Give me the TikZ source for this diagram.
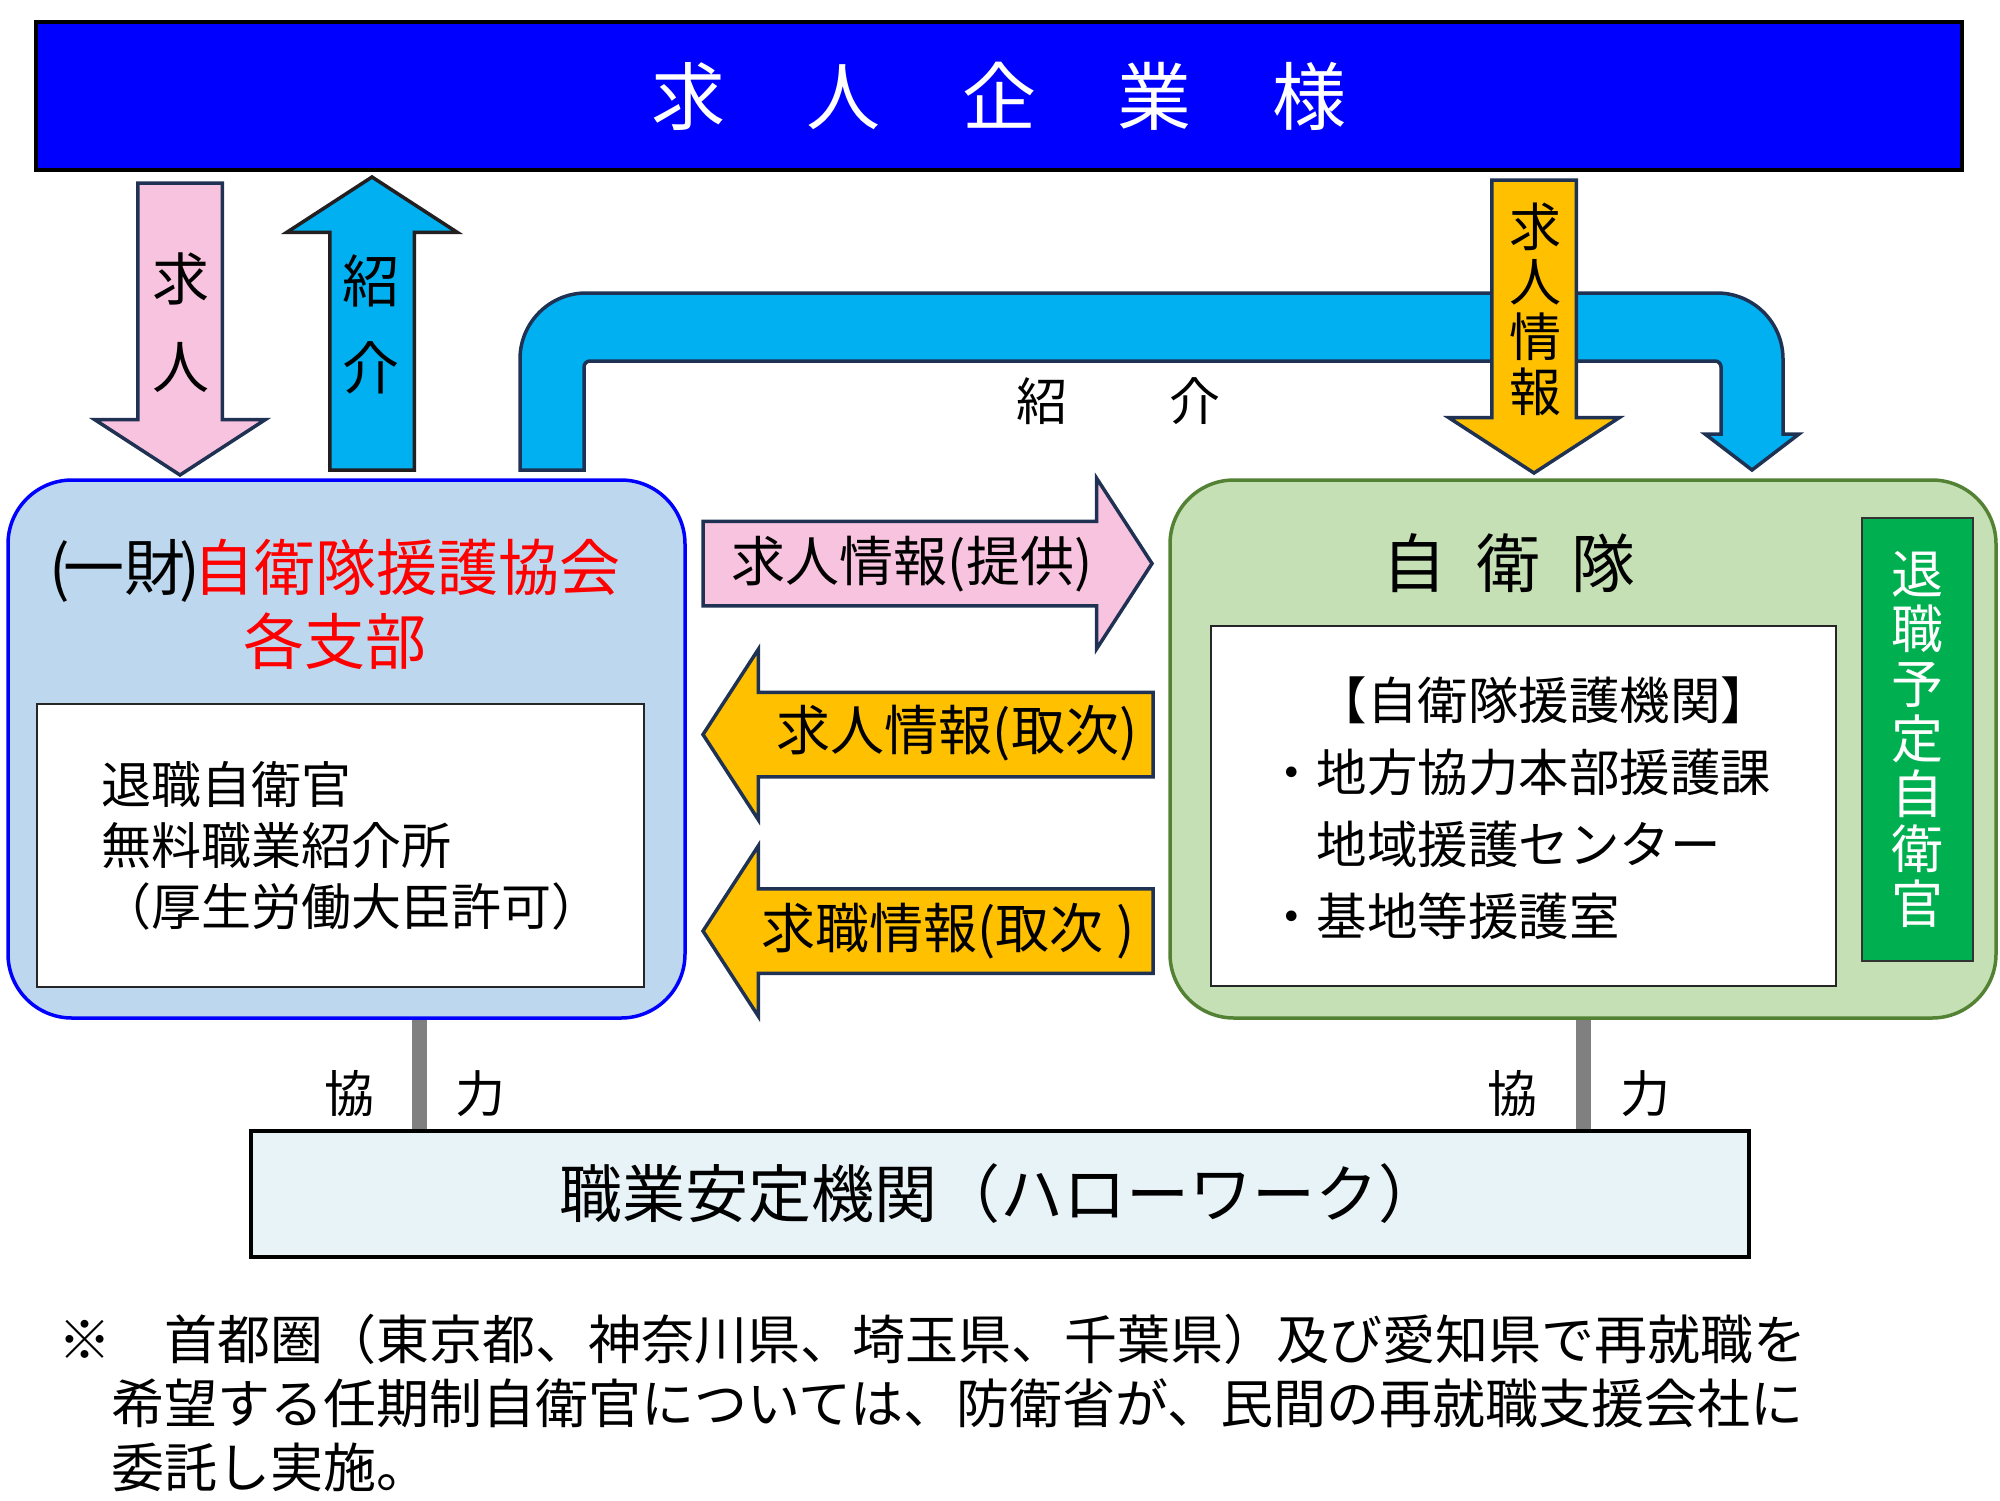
\documentclass[tikz,border=0pt]{standalone}
\usepackage{fontspec}
\setmainfont{Noto Sans CJK JP}
\usepackage{xcolor}
\usepackage{tikz}
\usetikzlibrary{positioning, shapes.arrows, calc}
\definecolor{firmblue}{RGB}{0,0,255}
\definecolor{pinkarrow}{RGB}{248,195,222}
\definecolor{skyarrow}{RGB}{0,176,240}
\definecolor{goldarrow}{RGB}{255,192,0}
\definecolor{navyedge}{RGB}{31,50,84}
\definecolor{inkedge}{RGB}{35,31,32}
\definecolor{assocfill}{RGB}{189,215,238}
\definecolor{jsdffill}{RGB}{197,224,180}
\definecolor{jsdfedge}{RGB}{84,130,53}
\definecolor{retiregreen}{RGB}{0,176,80}
\definecolor{hwfill}{RGB}{232,243,248}
\definecolor{linkgray}{RGB}{128,128,128}
\newcommand{\jpsize}[2]{\fontsize{#1}{#2}\selectfont}

\begin{document}
\begin{tikzpicture}[
      x=1pt, y=-1pt,
      panel/.style={draw, rounded corners=64pt, line width=3.5pt,
                    inner sep=0pt},
      inbox/.style={draw=black!85, fill=white, line width=2pt, inner sep=0pt},
      blockarrow/.style={single arrow, draw=navyedge, line width=3.5pt,
                         inner sep=40.5pt, outer sep=0pt,
                         single arrow head extend=43pt,
                         single arrow tip angle=114},
      link/.style={draw=linkgray, line width=15pt},
      lbl/.style={inner sep=0pt, outer sep=0pt},
    ]
    \useasboundingbox (0,0) rectangle (2000,1500);

    % ── companies ──
    \node[draw=black, line width=4pt, fill=firmblue, text=white,
          minimum width=1926pt, minimum height=148pt, inner sep=0pt,
          font=\jpsize{74}{74}] (firms) at (999,96)
          {求\hspace{1.1em}人\hspace{1.1em}企\hspace{1.1em}業\hspace{1.1em}様};

    % ── association side ──
    \node[panel, draw=firmblue, fill=assocfill, minimum width=677pt,
          minimum height=538pt] (assoc) at (346.5,749) {};
    \node[lbl, font=\jpsize{61}{74}, align=center] (assoctitle) at (335,604)
          {(\kern-0.1em一財\kern-0.1em)\kern-0.1em{\color{red}自衛隊援護協会}\\{\color{red}各支部}};
    \node[inbox, minimum width=607pt, minimum height=283pt] (associnner)
          at (340.5,845.5) {};
    \node[lbl, font=\jpsize{50}{61}, align=left, anchor=west] (assoctext)
          at (101,846) {退職自衛官\\無料職業紹介所\\（厚生労働大臣許可）};

    % ── JSDF side ──
    \node[panel, draw=jsdfedge, fill=jsdffill, minimum width=826pt,
          minimum height=538pt] (jsdf) at (1583,749) {};
    \node[lbl, font=\jpsize{64}{64}] (jsdftitle) at (1509,563)
          {自\hspace{0.48em}衛\hspace{0.48em}隊};
    \node[inbox, minimum width=625pt, minimum height=360pt] (jsdfinner)
          at (1523.5,806) {};
    \node[lbl, font=\jpsize{50.5}{72}, align=left, anchor=west] (jsdftext)
          at (1266,808)
          {　【自衛隊援護機関】\\・地方協力本部援護課\\　地域援護センター\\・基地等援護室};
    \node[draw=black!80, fill=retiregreen, line width=2pt, text=white,
          minimum width=111pt, minimum height=443pt, inner sep=0pt,
          align=center, font=\jpsize{52}{55}] (retiring) at (1917.5,739.5)
          {退\\職\\予\\定\\自\\衛\\官};

    % ── Hello Work ──
    \node[draw=black, line width=4pt, fill=hwfill, minimum width=1498pt,
          minimum height=126pt, inner sep=0pt, font=\jpsize{63}{63}]
          (hellowork) at (1000,1194) {職業安定機関（ハローワーク）};

    % cooperation links
    \coordinate (assoclink) at ([xshift=73pt]assoc.south);
    \draw[link] (assoclink) -- (assoclink |- hellowork.north);
    \draw[link] (jsdf.south) -- (jsdf.south |- hellowork.north);
    \node[lbl, font=\jpsize{50}{50}] (coopaL) at (349,1094) {協};
    \node[lbl, font=\jpsize{50}{50}] (coopaR) at (480,1094) {力};
    \node[lbl, font=\jpsize{50}{50}] (coopjL) at (1512,1094) {協};
    \node[lbl, font=\jpsize{50}{50}] (coopjR) at (1645,1094) {力};

    % ── arrows to / from companies ──
    \node[blockarrow, fill=pinkarrow, shape border rotate=270,
          minimum height=292pt, anchor=tail] (askdown) at (180,183) {};
    \node[lbl, font=\jpsize{57}{88}, align=center] (asklbl) at (181,323)
          {求\\人};
    \node[blockarrow, draw=inkedge, fill=skyarrow, shape border rotate=90,
          minimum height=293pt, anchor=tail] (introup) at (372,470) {};
    \node[lbl, font=\jpsize{57}{87}, align=center] (introlbl) at (371,324)
          {紹\\介};

    % bent introduction arrow (association -> JSDF)
    \draw[line width=3.5pt, draw=navyedge, fill=skyarrow]
      (520,470) -- (520,359) arc[start angle=180, end angle=270, radius=66]
      -- (1717,293) arc[start angle=270, end angle=360, radius=66]
      -- (1783,434) -- (1799,434) -- (1752,470) -- (1705,434) -- (1721,434)
      -- (1721,367) arc[start angle=0, end angle=-90, radius=6]
      -- (590,361) arc[start angle=270, end angle=180, radius=6]
      -- (584,470) -- cycle;
    \node[lbl, font=\jpsize{51}{51}] (bridgelbl) at (1118,401) {紹　　介};

    \node[blockarrow, fill=goldarrow, shape border rotate=270,
          minimum height=293pt, anchor=tail] (infodown) at (1534,180) {};
    \node[lbl, font=\jpsize{52}{55}, align=center] (infolbl) at (1535,309)
          {求\\人\\情\\報};

    % ── arrows between association and JSDF ──
    \node[blockarrow, fill=pinkarrow, minimum height=449pt, anchor=tail]
          (offer) at (703,563.5) {};
    \node[lbl, font=\jpsize{54}{54}] (offerlbl) at (912,564) {求人情報(提供)};
    \node[blockarrow, fill=goldarrow, shape border rotate=180,
          minimum height=450pt, anchor=tail] (relayjob) at (1153,734.5) {};
    \node[lbl, font=\jpsize{54}{54}] (relayjoblbl) at (957,733) {求人情報(取次)};
    \node[blockarrow, fill=goldarrow, shape border rotate=180,
          minimum height=450pt, anchor=tail] (relayseek) at (1153,931) {};
    \node[lbl, font=\jpsize{54}{54}] (relayseeklbl) at (948,931) {求職情報(取次 )};

    % note
    \node[lbl, font=\jpsize{53}{64}, align=left, anchor=west] (note)
          at (58,1403)
          {※　首都圏（東京都、神奈川県、埼玉県、千葉県）及び愛知県で再就職を\\
           　希望する任期制自衛官については、防衛省が、民間の再就職支援会社に\\
           　委託し実施。};
  \end{tikzpicture}
\end{document}
